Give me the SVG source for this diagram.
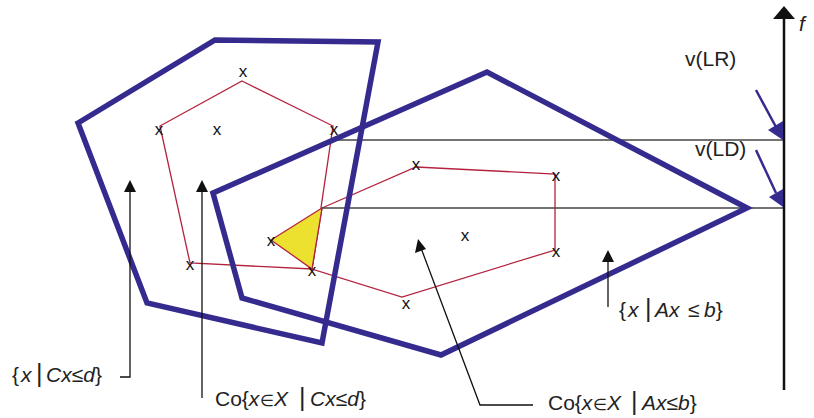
<svg xmlns="http://www.w3.org/2000/svg" width="814" height="418" viewBox="0 0 814 418">
<style>
.blue{fill:none;stroke:#352a8e;stroke-width:5.5;stroke-linejoin:miter}
.red{fill:none;stroke:#b3233f;stroke-width:1.3}
.hl{stroke:#444;stroke-width:1.5}
.ln{stroke:#111;stroke-width:1.3;fill:none}
.ah{fill:#111}
.bah{fill:#352a8e}
.mk{font-family:"Liberation Sans",Arial,sans-serif;font-size:17px;fill:#111;text-anchor:middle}
.lb{font-family:"Liberation Sans",Arial,sans-serif;font-size:21px;fill:#222}
.it{font-style:italic}
.bar{font-size:25px;font-weight:300}
.el{font-size:16px}
</style>
<rect width="814" height="418" fill="#fff"/>
<g id="hulls">
<polygon id="hull-c" class="red" points="242,81 333,126 312,269 190,263 160,126"/>
<polygon id="hull-a" class="red" points="322,208 416,167 555,174 555,250 402,297 312,269"/>
<polygon id="intersection" points="271,240 322,208 312,269" fill="#ece12f" stroke="#b3233f" stroke-width="1.3"/>
</g>
<g id="levels">
<line class="hl" x1="335" y1="140" x2="784" y2="140"/>
<line class="hl" x1="322" y1="208" x2="784" y2="208"/>
</g>
<g id="set-cx">
<polygon class="blue" points="78,123 215,40 378,42 322,343 147,303"/>
</g>
<g id="set-ax">
<polygon class="blue" points="213,193 487,72 747,208 441,355 242,298"/>
</g>
<g id="points">
<text class="mk" x="243" y="77">x</text>
<text class="mk" x="159" y="135">x</text>
<text class="mk" x="217" y="135">x</text>
<text class="mk" x="334" y="135">x</text>
<text class="mk" x="271" y="246">x</text>
<text class="mk" x="312" y="276">x</text>
<text class="mk" x="190" y="270">x</text>
<text class="mk" x="416" y="170">x</text>
<text class="mk" x="556" y="181">x</text>
<text class="mk" x="556" y="257">x</text>
<text class="mk" x="406" y="309">x</text>
<text class="mk" x="465" y="241">x</text>
</g>
<g id="axis">
<line x1="784" y1="17" x2="784" y2="390" stroke="#111" stroke-width="2.5"/>
<polygon class="ah" points="784,6 773,19 795,19"/>
<text class="lb it" x="799" y="31" font-size="23">f</text>
</g>
<g id="connectors">
<line x1="756" y1="90" x2="776" y2="127" stroke="#352a8e" stroke-width="2.5"/>
<polygon class="bah" points="783,140 768,130 783,121"/>
<line x1="756" y1="150" x2="776" y2="193" stroke="#352a8e" stroke-width="2.5"/>
<polygon class="bah" points="783,207 769,197 783,189"/>
<polyline class="ln" points="130,190 130,377 120,377"/>
<polygon class="ah" points="130,180 124,192 136,192"/>
<polyline class="ln" points="202,190 202,398"/>
<polygon class="ah" points="202,180 196,192 208,192"/>
<polyline class="ln" points="608,260 608,307"/>
<polygon class="ah" points="608,250 602,262 614,262"/>
<polyline class="ln" points="421,248 480,405 533,405"/>
<polygon class="ah" points="418,239 415,253 426,249"/>
</g>
<g id="labels">
<text class="lb" x="685" y="66">v(LR)</text>
<text class="lb" x="695" y="156">v(LD)</text>
<text class="lb" y="382"><tspan x="12">{</tspan><tspan class="it" x="21">x</tspan><tspan class="bar" x="36">|</tspan><tspan class="it" x="46">Cx</tspan><tspan>≤</tspan><tspan class="it">d</tspan><tspan>}</tspan></text>
<text class="lb" y="406"><tspan x="215">Co{</tspan><tspan class="it">x</tspan><tspan class="el" x="260">∈</tspan><tspan class="it" x="274">X</tspan><tspan class="bar" x="299">|</tspan><tspan class="it" x="310">Cx</tspan><tspan>≤</tspan><tspan class="it">d</tspan><tspan>}</tspan></text>
<text class="lb" y="317"><tspan x="619">{</tspan><tspan class="it" x="628">x</tspan><tspan class="bar" x="645">|</tspan><tspan class="it" x="655">Ax</tspan><tspan x="688">≤</tspan><tspan class="it" x="704">b</tspan><tspan>}</tspan></text>
<text class="lb" y="410"><tspan x="548">Co{</tspan><tspan class="it">x</tspan><tspan class="el" x="593">∈</tspan><tspan class="it" x="607">X</tspan><tspan class="bar" x="631">|</tspan><tspan class="it" x="642">Ax</tspan><tspan>≤</tspan><tspan class="it">b</tspan><tspan>}</tspan></text>
</g>
</svg>
